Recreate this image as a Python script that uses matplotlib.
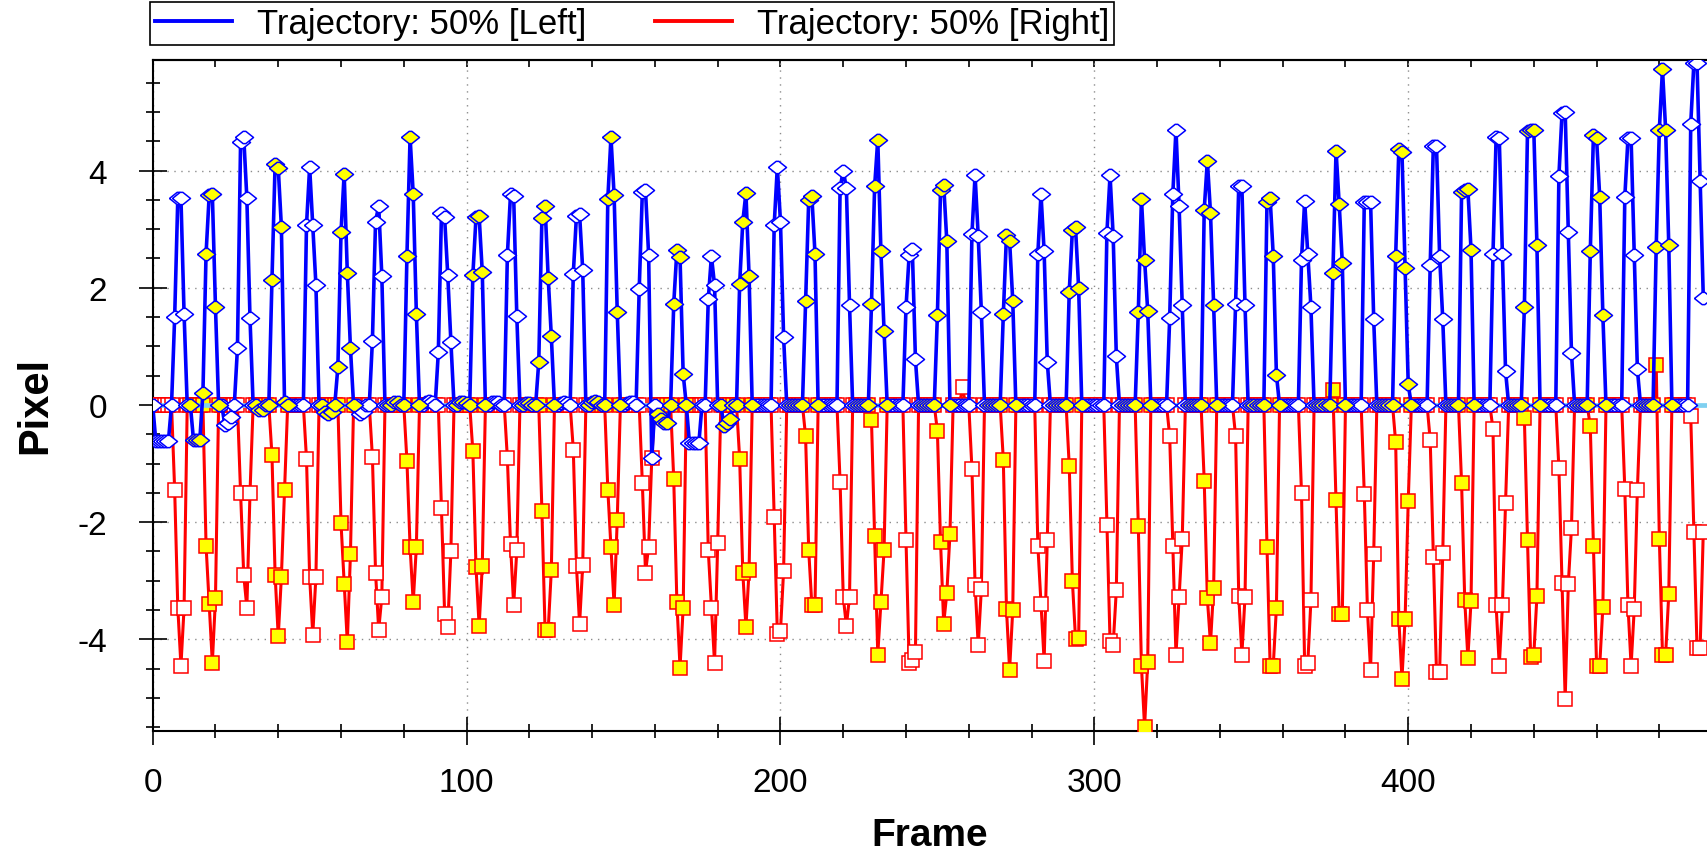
import matplotlib
matplotlib.use('Agg')
import matplotlib.pyplot as plt
from matplotlib.lines import Line2D
from matplotlib.ticker import MultipleLocator
import numpy as np

plt.rcParams['font.family'] = ['Liberation Sans', 'DejaVu Sans']
plt.rcParams['axes.unicode_minus'] = False

# first frame of each stride; marker fill switches white/yellow at every stride
cycle_starts = [0, 12, 22, 33, 44, 54, 65, 75, 86, 97, 107, 118, 129, 139, 150,
                161, 171, 181, 192, 203, 213, 224, 235, 245, 255, 266, 276, 287,
                297, 309, 319, 330, 340, 350, 360, 371, 381, 391, 402, 413, 422,
                433, 443, 454, 464, 475, 485]

# Trajectory 50% [Left], pixel per frame (one row per stride)
left_px = [
    0, -0.62, -0.62, -0.62, -0.62, -0.62, 0, 1.5, 3.53, 3.53, 1.55, 0,
    0, -0.6, -0.6, -0.6, 0.2, 2.58, 3.58, 3.6, 1.67, 0,
    0, -0.35, -0.3, -0.2, 0, 0.97, 4.48, 4.58, 3.53, 1.48, 0,
    0, -0.08, -0.08, 0, 0, 2.14, 4.11, 4.04, 3.04, 0.05, 0,
    0, 0, 0, 0, 0, 3.07, 4.06, 3.07, 2.05, 0,
    0, -0.12, -0.15, -0.12, 0, 0.65, 2.95, 3.95, 2.26, 0.97, 0,
    0, -0.15, -0.12, 0, 0, 1.1, 3.13, 3.4, 2.2, 0,
    0, 0, 0.05, 0.05, 0, 0, 2.55, 4.57, 3.6, 1.56, 0,
    0, 0.05, 0.07, 0.05, 0, 0.9, 3.27, 3.2, 2.22, 1.08, 0,
    0, 0.05, 0.05, 0.03, 0, 2.22, 3.2, 3.22, 2.27, 0,
    0, 0.05, 0.05, 0.05, 0, 0, 2.56, 3.6, 3.56, 1.52, 0,
    0, 0.03, 0.03, 0, 0, 0.74, 3.19, 3.4, 2.17, 1.17, 0,
    0, 0.03, 0.05, 0.03, 0, 2.24, 3.23, 3.26, 2.3, 0,
    0, 0.05, 0.07, 0.05, 0, 0, 3.52, 4.57, 3.58, 1.59, 0,
    0, 0.03, 0.05, 0.05, 0, 1.98, 3.64, 3.66, 2.56, -0.91, 0,
    -0.15, -0.24, -0.3, -0.3, 0, 1.73, 2.64, 2.52, 0.53, 0,
    -0.65, -0.65, -0.65, -0.65, 0, 0, 1.8, 2.54, 2.05, 0,
    0, -0.36, -0.3, -0.24, 0, 0, 2.07, 3.13, 3.62, 2.2, 0,
    0, 0, 0, 0, 0, 0, 3.07, 4.06, 3.13, 1.16, 0,
    0, 0, 0, 0, 0, 1.78, 3.5, 3.56, 2.58, 0,
    0, 0, 0, 0, 0, 0, 3.7, 4.0, 3.7, 1.71, 0,
    0, 0, 0, 0, 0, 1.73, 3.73, 4.53, 2.62, 1.27, 0,
    0, 0, 0, 0, 0, 1.67, 2.56, 2.67, 0.78, 0,
    0, 0, 0, 0, 0, 1.54, 3.66, 3.76, 2.79, 0,
    0, 0, 0, 0, 0, 0, 2.92, 3.92, 2.88, 1.59, 0,
    0, 0, 0, 0, 0, 1.55, 2.9, 2.8, 1.78, 0,
    0, 0, 0, 0, 0, 0, 2.58, 3.6, 2.62, 0.74, 0,
    0, 0, 0, 0, 0, 1.93, 2.98, 3.03, 1.99, 0,
    0, 0, 0, 0, 0, 0, 0, 2.94, 3.92, 2.88, 0.83, 0,
    0, 0, 0, 0, 0, 1.58, 3.52, 2.48, 1.61, 0,
    0, 0, 0, 0, 0, 1.48, 3.6, 4.7, 3.39, 1.71, 0,
    0, 0, 0, 0, 0, 3.33, 4.17, 3.28, 1.71, 0,
    0, 0, 0, 0, 0, 1.73, 3.73, 3.73, 1.7, 0,
    0, 0, 0, 0, 0, 3.47, 3.53, 2.54, 0.52, 0,
    0, 0, 0, 0, 0, 0, 2.48, 3.48, 2.58, 1.67, 0,
    0, 0, 0, 0, 0, 2.26, 4.34, 3.43, 2.42, 0,
    0, 0, 0, 0, 0, 3.47, 3.47, 3.47, 1.46, 0,
    0, 0, 0, 0, 0, 2.55, 4.36, 4.32, 2.33, 0.35, 0,
    0, 0, 0, 0, 0, 2.39, 4.42, 4.42, 2.54, 1.46, 0,
    0, 0, 0, 0, 3.64, 3.66, 3.68, 2.65, 0,
    0, 0, 0, 0, 0, 2.58, 4.57, 4.55, 2.58, 0.58, 0,
    0, 0, 0, 0, 1.67, 4.68, 4.7, 4.7, 2.73, 0,
    0, 0, 0, 0, 0, 3.91, 4.98, 5.0, 2.95, 0.89, 0,
    0, 0, 0, 0, 2.62, 4.6, 4.55, 3.55, 1.54, 0,
    0, 0, 0, 0, 0, 3.55, 4.55, 4.55, 2.56, 0.61, 0,
    0, 0, 0, 0, 2.7, 4.7, 5.73, 4.7, 2.73, 0,
    0, 0, 0, 0, 0, 4.8, 5.83, 5.83, 3.83, 1.83,
]

# Trajectory 50% [Right], pixel per frame (same rows)
right_px = [
    0, 0, 0, 0, 0, 0, 0, -1.45, -3.46, -4.45, -3.46, 0,
    0, 0, 0, 0, 0, -2.4, -3.39, -4.4, -3.3, 0,
    0, 0, 0, 0, 0, 0, -1.5, -2.9, -3.46, -1.5, 0,
    0, 0, 0, 0, 0, -0.86, -2.9, -3.95, -2.93, -1.45, 0,
    0, 0, 0, 0, 0, -0.92, -2.93, -3.92, -2.93, 0,
    0, 0, 0, 0, 0, 0, -2.02, -3.05, -4.05, -2.55, 0,
    0, 0, 0, 0, 0, -0.89, -2.86, -3.84, -3.27, 0,
    0, 0, 0, 0, 0, 0, -0.96, -2.42, -3.37, -2.42, 0,
    0, 0, 0, 0, 0, 0, -1.75, -3.56, -3.79, -2.5, 0,
    0, 0, 0, 0, 0, -0.79, -2.77, -3.77, -2.75, 0,
    0, 0, 0, 0, 0, 0, -0.91, -2.38, -3.42, -2.48, 0,
    0, 0, 0, 0, 0, 0, -1.81, -3.84, -3.84, -2.82, 0,
    0, 0, 0, 0, 0, -0.76, -2.74, -3.74, -2.73, 0,
    0, 0, 0, 0, 0, 0, -1.45, -2.42, -3.42, -1.96, 0,
    0, 0, 0, 0, 0, 0, -1.34, -2.86, -2.42, -0.91, 0,
    0, 0, 0, 0, 0, -1.27, -3.37, -4.48, -3.46, 0,
    0, 0, 0, 0, 0, 0, -2.48, -3.46, -4.41, -2.36,
    0, 0, 0, 0, 0, 0, -0.92, -2.86, -3.79, -2.82, 0,
    0, 0, 0, 0, 0, 0, -1.91, -3.9, -3.86, -2.83, 0,
    0, 0, 0, 0, 0, -0.53, -2.48, -3.42, -3.42, 0,
    0, 0, 0, 0, 0, 0, -1.32, -3.27, -3.77, -3.27, 0,
    0, 0, 0, 0, 0, -0.26, -2.23, -4.26, -3.37, -2.48, 0,
    0, 0, 0, 0, 0, -2.31, -4.41, -4.36, -4.22, 0,
    0, 0, 0, 0, 0, -0.45, -2.34, -3.73, -3.21, -2.2,
    0, 0, 0, 0.3, 0, 0, -1.09, -3.07, -4.1, -3.14, 0,
    0, 0, 0, 0, 0, -0.94, -3.48, -4.52, -3.5, 0,
    0, 0, 0, 0, 0, 0, -2.4, -3.39, -4.37, -2.31, 0,
    0, 0, 0, 0, 0, -1.04, -3.0, -3.99, -3.98, 0,
    0, 0, 0, 0, 0, 0, 0, -2.05, -4.03, -4.09, -3.16, 0,
    0, 0, 0, 0, 0, -2.06, -4.45, -5.5, -4.39, 0,
    0, 0, 0, 0, 0, -0.53, -2.4, -4.27, -3.27, -2.29, 0,
    0, 0, 0, 0, 0, -1.29, -3.3, -4.07, -3.12, 0,
    0, 0, 0, 0, 0, -0.53, -3.26, -4.26, -3.27, 0,
    0, 0, 0, 0, 0, -2.42, -4.45, -4.45, -3.46, 0,
    0, 0, 0, 0, 0, 0, -1.51, -4.45, -4.41, -3.33, 0,
    0, 0, 0, 0, 0, 0.25, -1.63, -3.56, -3.56, 0,
    0, 0, 0, 0, 0, -1.52, -3.5, -4.52, -2.54, 0,
    0, 0, 0, 0, 0, -0.64, -3.65, -4.67, -3.65, -1.64, 0,
    0, 0, 0, 0, 0, -0.6, -2.59, -4.56, -4.55, -2.52, 0,
    0, 0, 0, 0, -1.34, -3.33, -4.32, -3.35, 0,
    0, 0, 0, 0, 0, -0.41, -3.42, -4.45, -3.42, -1.67, 0,
    0, 0, 0, 0, -0.23, -2.31, -4.3, -4.27, -3.26, 0,
    0, 0, 0, 0, 0, -1.08, -3.03, -5.02, -3.05, -2.1, 0,
    0, 0, 0, 0, -0.36, -2.4, -4.45, -4.45, -3.45, 0,
    0, 0, 0, 0, 0, -1.44, -3.42, -4.45, -3.48, -1.45, 0,
    0, 0, 0, 0, 0.69, -2.29, -4.26, -4.26, -3.23, 0,
    0, 0, 0, 0, 0, -0.18, -2.17, -4.14, -4.14, -2.16,
]

legend_labels = ['Trajectory: 50% [Left]', 'Trajectory: 50% [Right]']

blue = '#0000FF'
red = '#FF0000'
yellow = '#FFFF00'

left = np.array(left_px, dtype=float)
right = np.array(right_px, dtype=float)
frames = np.arange(len(left))
stride = np.searchsorted(cycle_starts, frames, side='right') - 1
odd = stride % 2 == 1

fig = plt.figure(figsize=(17.08, 8.54), dpi=100)
ax = fig.add_axes([0.0894, 0.1431, 0.9106, 0.785])

diamond = [(-1, 0), (-0.15, 0.68), (0.15, 0.68), (1, 0),
           (0.15, -0.68), (-0.15, -0.68), (-1, 0)]

# right first, left on top
ax.plot(frames, right, color=red, lw=2.2, zorder=3)
ax.plot(frames[~odd], right[~odd], ls='none', marker='s', ms=10,
        mfc='white', mec=red, mew=1.1, zorder=4)
ax.plot(frames[odd], right[odd], ls='none', marker='s', ms=10,
        mfc=yellow, mec=red, mew=1.1, zorder=4)
ax.axhline(0, color='#7fd0f0', lw=3.4, zorder=4.5)
ax.plot(frames, left, color=blue, lw=2.6, zorder=5)
ax.plot(frames[~odd], left[~odd], ls='none', marker=diamond, ms=13,
        mfc='white', mec=blue, mew=1.1, zorder=6)
ax.plot(frames[odd], left[odd], ls='none', marker=diamond, ms=13,
        mfc=yellow, mec=blue, mew=1.1, zorder=6)

ax.set_xlim(0, 495.5)
ax.set_ylim(-5.56, 5.88)

ax.xaxis.set_major_locator(MultipleLocator(100))
ax.xaxis.set_minor_locator(MultipleLocator(20))
ax.yaxis.set_major_locator(MultipleLocator(2))
ax.yaxis.set_minor_locator(MultipleLocator(0.5))

ax.tick_params(which='major', direction='inout', length=20, width=1.2, labelsize=24)
ax.tick_params(which='minor', direction='inout', length=10.5, width=1.2)
ax.tick_params(axis='y', which='major', pad=23)
ax.tick_params(axis='x', which='major', pad=16)

top = ax.secondary_xaxis('top')
top.xaxis.set_major_locator(MultipleLocator(100))
top.xaxis.set_minor_locator(MultipleLocator(20))
top.tick_params(which='both', direction='in', length=5, width=1.2, labeltop=False)
top.spines['top'].set_linewidth(1.5)

ax.spines['right'].set_visible(False)
for s in ['left', 'bottom', 'top']:
    ax.spines[s].set_linewidth(1.5)

ax.grid(True, which='major', ls=(0, (1, 4)), color='#8c8c8c', lw=1.0)

fig.text(0.0205, 0.525, 'Pixel', rotation=90, ha='center', va='center',
         fontsize=30, fontweight='bold')
fig.text(0.5445, 0.021, 'Frame', ha='center', va='center',
         fontsize=28, fontweight='bold')

handles = [Line2D([], [], color=blue, lw=2.8), Line2D([], [], color=red, lw=2.8)]
leg = fig.legend(handles, legend_labels, loc='upper left',
                 bbox_to_anchor=(0.0878, 0.9965), ncol=2, fontsize=25,
                 frameon=True, fancybox=False, edgecolor='black', framealpha=1,
                 borderpad=0.15, handlelength=2.2, handletextpad=0.72,
                 columnspacing=2.0, borderaxespad=0)
leg.get_frame().set_linewidth(1.2)

fig.savefig('out.png', dpi=100)
